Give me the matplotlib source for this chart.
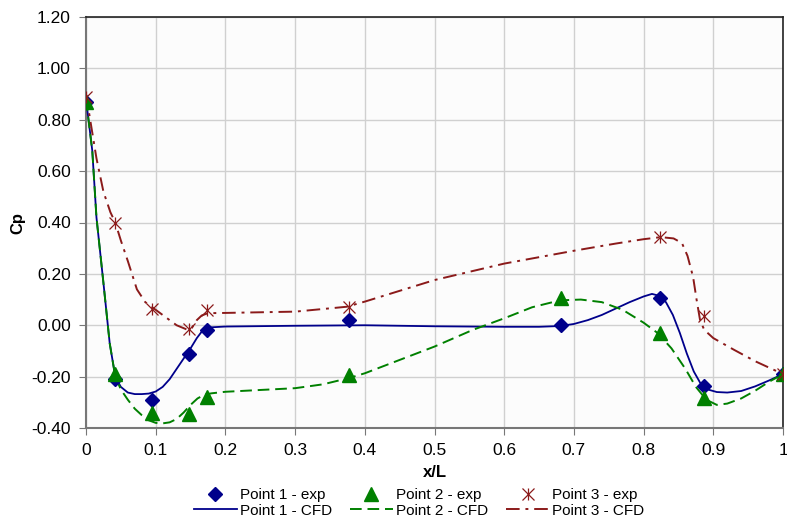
import matplotlib.pyplot as plt
from matplotlib.legend_handler import HandlerTuple

plt.rcParams['font.family'] = ['Liberation Sans', 'DejaVu Sans']

# experimental points
x_exp = [0, 0.042, 0.095, 0.148, 0.173, 0.378, 0.682, 0.823, 0.887, 1.0]
p1_exp = [0.87, -0.21, -0.29, -0.11, -0.02, 0.02, 0.00, 0.105, -0.235, -0.19]
p2_exp = [0.87, -0.19, -0.34, -0.345, -0.28, -0.195, 0.105, -0.03, -0.285, -0.19]
x3_exp = [0, 0.042, 0.095, 0.148, 0.173, 0.378, 0.823, 0.887, 1.0]
p3_exp = [0.89, 0.40, 0.065, -0.015, 0.06, 0.07, 0.345, 0.035, -0.19]

# CFD curves
x1_cfd = [0, 0.009, 0.015, 0.025, 0.034, 0.042, 0.05, 0.06, 0.07, 0.08, 0.09, 0.1,
          0.11, 0.12, 0.13, 0.14, 0.15, 0.159, 0.166, 0.173, 0.18, 0.2, 0.3, 0.4,
          0.5, 0.6, 0.65, 0.68, 0.7, 0.72, 0.74, 0.76, 0.78, 0.8, 0.812, 0.822,
          0.832, 0.842, 0.852, 0.862, 0.872, 0.882, 0.892, 0.905, 0.92, 0.94, 0.96,
          0.98, 1.0]
p1_cfd = [0.88, 0.68, 0.42, 0.165, -0.07, -0.2, -0.24, -0.262, -0.268, -0.268, -0.266, -0.258,
          -0.24, -0.21, -0.17, -0.13, -0.09, -0.05, -0.025, -0.012, -0.008, -0.005, -0.002, 0.0,
          -0.004, -0.006, -0.006, -0.003, 0.005, 0.02, 0.04, 0.065, 0.09, 0.112, 0.122, 0.115,
          0.09, 0.04, -0.03, -0.11, -0.18, -0.228, -0.25, -0.26, -0.262, -0.256, -0.238,
          -0.215, -0.19]

x2_cfd = [0, 0.009, 0.015, 0.025, 0.034, 0.042, 0.05, 0.06, 0.07, 0.08, 0.09, 0.1,
          0.11, 0.12, 0.13, 0.14, 0.15, 0.16, 0.17, 0.18, 0.2, 0.3, 0.34, 0.378,
          0.4, 0.45, 0.5, 0.555, 0.6, 0.64, 0.68, 0.71, 0.74, 0.77, 0.8, 0.82,
          0.84, 0.86, 0.875, 0.89, 0.905, 0.92, 0.94, 0.96, 0.98, 1.0]
p2_cfd = [0.88, 0.68, 0.42, 0.165, -0.07, -0.2, -0.25, -0.29, -0.325, -0.35, -0.37, -0.38,
          -0.382, -0.378, -0.365, -0.34, -0.31, -0.285, -0.27, -0.265, -0.259, -0.245, -0.23, -0.205,
          -0.187, -0.135, -0.083, -0.018, 0.027, 0.07, 0.097, 0.1, 0.09, 0.06, 0.01, -0.03,
          -0.09, -0.17, -0.24, -0.29, -0.31, -0.305, -0.285, -0.255, -0.22, -0.19]

x3_cfd = [0, 0.006, 0.015, 0.025, 0.035, 0.042, 0.05, 0.06, 0.073, 0.085, 0.095, 0.11,
          0.12, 0.13, 0.146, 0.152, 0.159, 0.166, 0.175, 0.2, 0.3, 0.374, 0.4, 0.5,
          0.6, 0.7, 0.76, 0.8, 0.825, 0.843, 0.855, 0.863, 0.871, 0.876, 0.881, 0.887,
          0.9, 0.93, 0.96, 1.0]
p3_cfd = [0.9, 0.8, 0.65, 0.52, 0.44, 0.40, 0.33, 0.25, 0.14, 0.09, 0.07, 0.04,
          0.02, 0.0, -0.018, -0.01, 0.02, 0.038, 0.047, 0.048, 0.053, 0.072, 0.092, 0.176,
          0.24, 0.29, 0.318, 0.335, 0.343, 0.338, 0.32, 0.27, 0.188, 0.1, 0.02, -0.018,
          -0.05, -0.096, -0.14, -0.19]

c1 = '#00008b'
c2 = '#008000'
c3 = '#8b1a1a'

fig = plt.figure(figsize=(7.87, 5.22), dpi=100)
ax = fig.add_axes([86/787, 1 - 428/522, 697/787, 411/522])
ax.set_facecolor('#fcfcfc')

h1, = ax.plot(x_exp, p1_exp, 'D', color=c1, markersize=7, linestyle='none', zorder=4)
l1, = ax.plot(x1_cfd, p1_cfd, '-', color=c1, linewidth=1.3, zorder=3)
h2, = ax.plot(x_exp, p2_exp, '^', color=c2, markersize=10, linestyle='none', zorder=4)
l2, = ax.plot(x2_cfd, p2_cfd, '--', color=c2, linewidth=1.4, dashes=(6, 3), zorder=3)
h3a, = ax.plot(x3_exp, p3_exp, 'x', color=c3, markersize=9, markeredgewidth=0.9, linestyle='none', zorder=4)
h3b, = ax.plot(x3_exp, p3_exp, '|', color=c3, markersize=9, markeredgewidth=0.9, linestyle='none', zorder=4)
l3, = ax.plot(x3_cfd, p3_cfd, '-.', color=c3, linewidth=1.4, dashes=(7, 3, 1.5, 3), zorder=3)

ax.set_xlim(0, 1)
ax.set_ylim(-0.4, 1.2)
ax.set_xticks([0, 0.1, 0.2, 0.3, 0.4, 0.5, 0.6, 0.7, 0.8, 0.9, 1])
ax.set_xticklabels(['0', '0.1', '0.2', '0.3', '0.4', '0.5', '0.6', '0.7', '0.8', '0.9', '1'])
ax.set_yticks([-0.4, -0.2, 0, 0.2, 0.4, 0.6, 0.8, 1.0, 1.2])
ax.set_yticklabels(['%.2f' % v for v in [-0.4, -0.2, 0, 0.2, 0.4, 0.6, 0.8, 1.0, 1.2]])
ax.grid(True, color='#d0d0d0', linewidth=1)
ax.set_axisbelow(True)
ax.tick_params(labelsize=12.5, color='#777777', direction='out', length=5, pad=6)

for s in ['left', 'bottom']:
    ax.spines[s].set_color('#777777')
    ax.spines[s].set_linewidth(1.5)
for s in ['top', 'right']:
    ax.spines[s].set_color('#222222')
    ax.spines[s].set_linewidth(1.2)

ax.set_xlabel('x/L', fontsize=12, fontweight='bold', labelpad=5)
ax.set_ylabel('Cp', fontsize=12, fontweight='bold', labelpad=4)

handles = [h1, l1, h2, l2, (h3a, h3b), l3]
labels = ['Point 1 - exp', 'Point 1 - CFD', 'Point 2 - exp', 'Point 2 - CFD',
          'Point 3 - exp', 'Point 3 - CFD']
fig.legend(handles, labels, loc='center', bbox_to_anchor=(419/787, 1 - 503/522), ncol=3,
           frameon=False, fontsize=11, handlelength=2.8, handletextpad=0.2,
           columnspacing=1.2, labelspacing=0.1, borderpad=0,
           handler_map={tuple: HandlerTuple(ndivide=1, pad=0)})

fig.savefig('out.png', dpi=100)
